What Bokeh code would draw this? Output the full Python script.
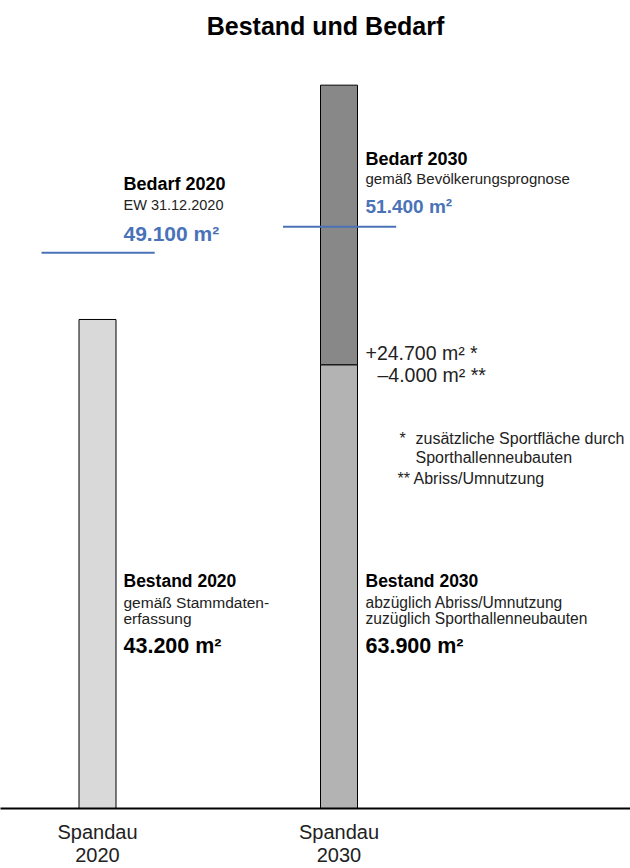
from bokeh.plotting import figure
from bokeh.models import Range1d, Label, FixedTicker
from bokeh.embed import file_html
from bokeh.resources import INLINE

# ---- data ----
categories = ["Spandau\n2020", "Spandau\n2030"]
bestand_2020 = [43200]
abriss_2030 = [4000]
neubau_2030 = [24700]
bestand_2030 = [63900]
bedarf_values = [49100, 51400]

# ---- layout helpers ----
FONT = "Liberation Sans"
BLUE = "#4a72b8"
PX_PER_UNIT = 241.5          # px between category centres
PX_PER_M2 = 0.01132          # px per m^2
W, H = 630, 868
FRAME_H = 808
X_START = -97 / PX_PER_UNIT

def xd(page_x):
    return (page_x - 97) / PX_PER_UNIT

def yd(page_y):
    return (FRAME_H - page_y) / PX_PER_M2

p = figure(width=W, height=H, output_backend="svg", toolbar_location=None,
           x_range=Range1d(X_START, X_START + W / PX_PER_UNIT),
           y_range=Range1d(0, FRAME_H / PX_PER_M2),
           min_border=0, min_border_bottom=H - FRAME_H)
p.outline_line_color = None
p.background_fill_color = "white"
p.border_fill_color = "white"
p.xgrid.visible = False
p.ygrid.visible = False
p.yaxis.visible = False

xs = list(range(len(categories)))
bw = 37 / PX_PER_UNIT

# bars
p.vbar(x=[xs[0]], bottom=0, top=bestand_2020, width=bw,
       fill_color="#d9d9d9", line_color="black", line_width=1)
rest = [bestand_2030[0] - neubau_2030[0]]
p.vbar(x=[xs[1]], bottom=0, top=rest, width=bw,
       fill_color="#b3b3b3", line_color="black", line_width=1)
p.vbar(x=[xs[1]], bottom=rest, top=bestand_2030, width=bw,
       fill_color="#888888", line_color="black", line_width=1)

# Bedarf lines
half = 56 / PX_PER_UNIT
p.segment(x0=[x - half for x in xs], x1=[x + half + 0.005 for x in xs],
          y0=bedarf_values, y1=bedarf_values, line_color=BLUE, line_width=2)

# x axis
ax = p.xaxis[0]
ax.ticker = FixedTicker(ticks=xs)
ax.major_label_overrides = {i: c for i, c in enumerate(categories)}
ax.axis_line_width = 2
ax.axis_line_color = "black"
ax.major_tick_line_color = None
ax.major_tick_out = 0
ax.major_tick_in = 0
ax.minor_tick_line_color = None
ax.minor_tick_out = 0
ax.major_label_text_font = FONT
ax.major_label_text_font_size = "20px"
ax.major_label_text_line_height = 1.05
ax.major_label_text_color = "#222222"
ax.major_label_standoff = 12


def lab(text, px, py, size, bold=False, color="#111111", align="left"):
    # py is the wanted baseline on the page; shift for the renderer's offset
    p.add_layout(Label(x=xd(px), y=yd(py - 0.33 * size), text=text, text_font=FONT,
                       text_font_size=f"{size}px",
                       text_font_style="bold" if bold else "normal",
                       text_color=color, text_align=align,
                       text_baseline="alphabetic"))

def fmt(v):
    return f"{v:,}".replace(",", ".") + " m²"

# title
lab("Bestand und Bedarf", 325, 34, 25, bold=True, color="#000000", align="center")

# Bedarf 2020
lab("Bedarf 2020", 123, 189, 18, bold=True, color="#000000")
lab("EW 31.12.2020", 123, 209, 14.5, color="#222222")
lab(fmt(bedarf_values[0]), 123, 240, 21, bold=True, color=BLUE)

# Bedarf 2030
lab("Bedarf 2030", 365, 164, 18, bold=True, color="#000000")
lab("gemäß Bevölkerungsprognose", 365, 183, 15, color="#222222")
lab(fmt(bedarf_values[1]), 365, 212, 19, bold=True, color=BLUE)

# change annotations
lab("+" + fmt(neubau_2030[0]) + " *", 365, 359, 19.5, color="#222222")
lab("–" + fmt(abriss_2030[0]) + " **", 377, 381, 19.5, color="#222222")

# footnotes
lab("*", 399, 443, 16, color="#222222")
lab("zusätzliche Sportfläche durch", 415, 443, 16, color="#222222")
lab("Sporthallenneubauten", 415, 462, 16, color="#222222")
lab("** Abriss/Umnutzung", 397, 483, 16, color="#222222")

# Bestand 2020
lab("Bestand 2020", 123, 586, 17.5, bold=True, color="#000000")
lab("gemäß Stammdaten-", 123, 607, 15.5, color="#222222")
lab("erfassung", 123, 623, 15.5, color="#222222")
lab(fmt(bestand_2020[0]), 123, 653, 21.5, bold=True, color="#000000")

# Bestand 2030
lab("Bestand 2030", 365, 586, 17.5, bold=True, color="#000000")
lab("abzüglich Abriss/Umnutzung", 365, 607, 15.6, color="#222222")
lab("zuzüglich Sporthallenneubauten", 365, 623, 15.6, color="#222222")
lab(fmt(bestand_2030[0]), 365, 653, 21.5, bold=True, color="#000000")

open("out.html", "w").write(file_html(p, INLINE))
